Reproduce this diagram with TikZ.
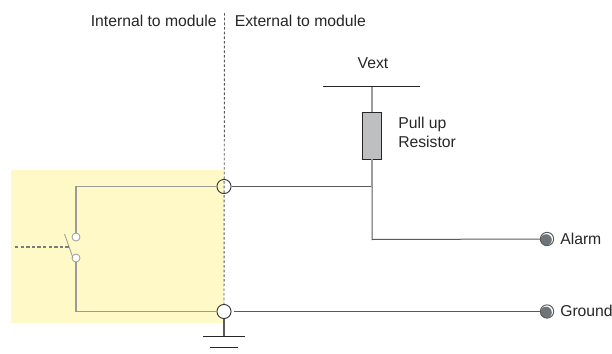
\documentclass[tikz,border=0pt]{standalone}
\usepackage{fontspec}
\setmainfont{Liberation Sans}
\usetikzlibrary{calc}
\definecolor{modyellow}{HTML}{FEF9C6}
\definecolor{wiregray}{HTML}{9A9A9A}
\definecolor{darkwire}{HTML}{5A5A5A}
\definecolor{resfill}{HTML}{BDBFC1}
\definecolor{termfill}{HTML}{6F7478}
\tikzset{
  lbl/.style={font=\fontsize{11.8}{14.2}\selectfont, text=black!85, inner sep=0pt},
  wire/.style={wiregray, line width=0.9pt},
  blackwire/.style={darkwire, line width=0.75pt},
  portc/.style={circle, draw=black!80, line width=0.7pt, minimum size=10.6pt, inner sep=0pt},
  portw/.style={circle, draw=black!80, fill=white, line width=0.7pt, minimum size=10.6pt, inner sep=0pt},
  contact/.style={circle, draw=wiregray, fill=white, line width=0.6pt, minimum size=6pt, inner sep=0pt},
  term/.style={circle, draw=darkwire, fill=white, line width=0.7pt, minimum size=10pt, inner sep=0pt,
    path picture={\fill[termfill] ($(path picture bounding box.center)+(-0.7pt,-0.7pt)$) circle (4.3pt);}},
}
\begin{document}
\begin{tikzpicture}[x=0.75pt,y=-0.75pt]
\useasboundingbox (0,0) rectangle (612,354);
\fill[modyellow] (11,170) rectangle (224,323);
% coordinates
\coordinate (dtop) at (224.5,13);
\coordinate (vl) at (323,86);
\coordinate (vr) at (420,86);
\coordinate (vm) at (372,86);
\coordinate (junc) at (372,186.5);
\coordinate (corner) at (372,239.5);
\coordinate (tl) at (76,186.5);
\coordinate (bl) at (76,311.5);
\coordinate (gs) at (224,336.5);
\coordinate (g1l) at (203,336.5);
\coordinate (g1r) at (245,336.5);
\coordinate (g2l) at (210,347.5);
\coordinate (g2r) at (238,347.5);
\coordinate (ctl) at (15,247);
\coordinate (cth) at (69,247);
\coordinate (lev1) at (64.5,234);
\coordinate (lev2) at (73,258);
% nodes
\node[portc] (p1) at (224,186.5) {};
\node[portw] (p2) at (224,311.5) {};
\node[contact] (c1) at (76,237) {};
\node[contact] (c2) at (76,258) {};
\node[term] (ta) at (547,239) {};
\node[term] (tg) at (547,311.5) {};
\node[draw=black!85, fill=resfill, line width=0.7pt, minimum width=14.6pt, minimum height=35.2pt, inner sep=0pt] (res) at (372,135.5) {};
% dotted divider
\draw[darkwire, line width=0.7pt, dash pattern=on 2pt off 1.5pt] (dtop) -- (p2.north);
% wires inside
\draw[wire] (c1) -- (tl) -- (p1);
\draw[wire] (c2) -- (bl) -- (p2);
\draw[wire, line width=0.6pt] (lev1) -- (lev2);
\draw[darkwire!80, line width=0.9pt, dash pattern=on 2.6pt off 1.6pt] (ctl) -- (cth);
% outside
\draw[blackwire] (p1) -- (junc);
\draw[blackwire] (junc) -- (corner) -- (ta);
\draw[blackwire] ($(p2.east)+(2,0)$) -- (tg);
\draw[wire] (vm) -- (res);
\draw[wire] (res) -- (junc);
\draw[black!85, line width=0.7pt] (vl) -- (vr);
\draw[darkwire, line width=0.9pt] (p2) -- (gs);
\draw[black!85, line width=0.7pt] (g1l) -- (g1r);
\draw[black!85, line width=0.7pt] (g2l) -- (g2r);
% labels
\node[lbl, anchor=base east] (li) at (217,26) {Internal to module};
\node[lbl, anchor=base west] (le) at (234.5,26) {External to module};
\node[lbl] (lv) at (373,63) {Vext};
\node[lbl, anchor=north west, align=left] (lp) at (398,116.5) {Pull up\\Resistor};
\node[lbl, anchor=west] (la) at (560,239) {Alarm};
\node[lbl, anchor=west] (lg) at (560,311) {Ground};
\end{tikzpicture}
\end{document}
